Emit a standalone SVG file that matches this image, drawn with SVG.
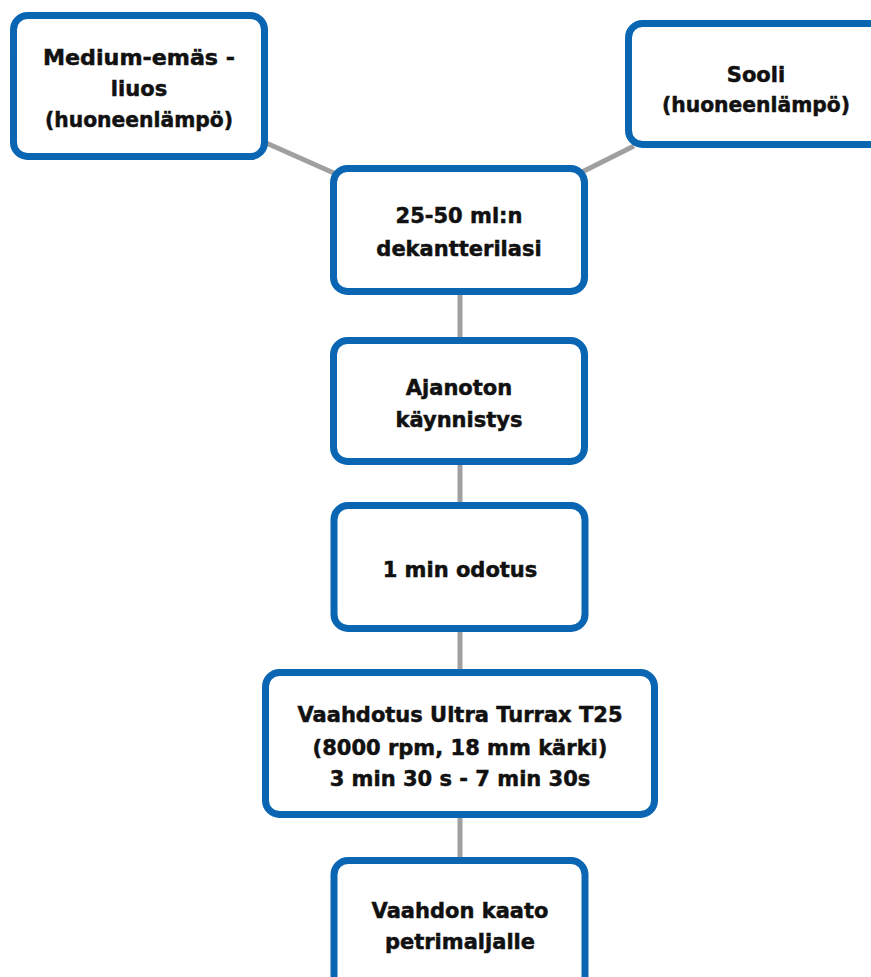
<svg xmlns="http://www.w3.org/2000/svg" width="871" height="977" viewBox="0 0 871 977">
<style>
.box{fill:#ffffff;stroke:#0a66b2;stroke-width:7}
.lbl{font-family:"DejaVu Sans",sans-serif;font-weight:bold;font-size:21px;fill:#111111;stroke:#111111;stroke-width:0.5;text-anchor:middle}
.conn{stroke:#a0a0a0;stroke-width:5;fill:none}
</style>
<rect width="871" height="977" fill="#ffffff"/>
<g id="connectors">
<line class="conn" x1="264" y1="142" x2="336" y2="174"/>
<line class="conn" x1="634" y1="146" x2="582" y2="172"/>
<line class="conn" x1="460" y1="295" x2="460" y2="338"/>
<line class="conn" x1="460" y1="464" x2="460" y2="503"/>
<line class="conn" x1="460" y1="631" x2="460" y2="670"/>
<line class="conn" x1="460" y1="817" x2="460" y2="858"/>
</g>
<g id="medium">
<rect class="box" x="13.5" y="15.5" width="251" height="141" rx="14"/>
<text class="lbl" x="139" y="65" textLength="192" lengthAdjust="spacingAndGlyphs">Medium-emäs -</text>
<text class="lbl" x="139" y="96">liuos</text>
<text class="lbl" x="139" y="127" textLength="188" lengthAdjust="spacingAndGlyphs">(huoneenlämpö)</text>
</g>
<g id="sooli">
<rect class="box" x="628.5" y="23.5" width="255" height="121" rx="14"/>
<text class="lbl" x="756" y="82">Sooli</text>
<text class="lbl" x="756" y="112" textLength="188" lengthAdjust="spacingAndGlyphs">(huoneenlämpö)</text>
</g>
<g id="dekantteri">
<rect class="box" x="333.5" y="168.5" width="251" height="123" rx="14"/>
<text class="lbl" x="459" y="223">25-50 ml:n</text>
<text class="lbl" x="459" y="256">dekantterilasi</text>
</g>
<g id="ajanoton">
<rect class="box" x="333.5" y="340.5" width="251" height="121" rx="14"/>
<text class="lbl" x="459" y="395">Ajanoton</text>
<text class="lbl" x="459" y="427">käynnistys</text>
</g>
<g id="odotus">
<rect class="box" x="334" y="505.5" width="251" height="123" rx="14"/>
<text class="lbl" x="460" y="577">1 min odotus</text>
</g>
<g id="vaahdotus">
<rect class="box" x="265.5" y="672.5" width="389" height="142" rx="14"/>
<text class="lbl" x="460" y="722">Vaahdotus Ultra Turrax T25</text>
<text class="lbl" x="460" y="755">(8000 rpm, 18 mm kärki)</text>
<text class="lbl" x="460" y="786">3 min 30 s - 7 min 30s</text>
</g>
<g id="kaato">
<rect class="box" x="334" y="860.5" width="251" height="140" rx="14"/>
<text class="lbl" x="460" y="918">Vaahdon kaato</text>
<text class="lbl" x="460" y="949">petrimaljalle</text>
</g>
</svg>
